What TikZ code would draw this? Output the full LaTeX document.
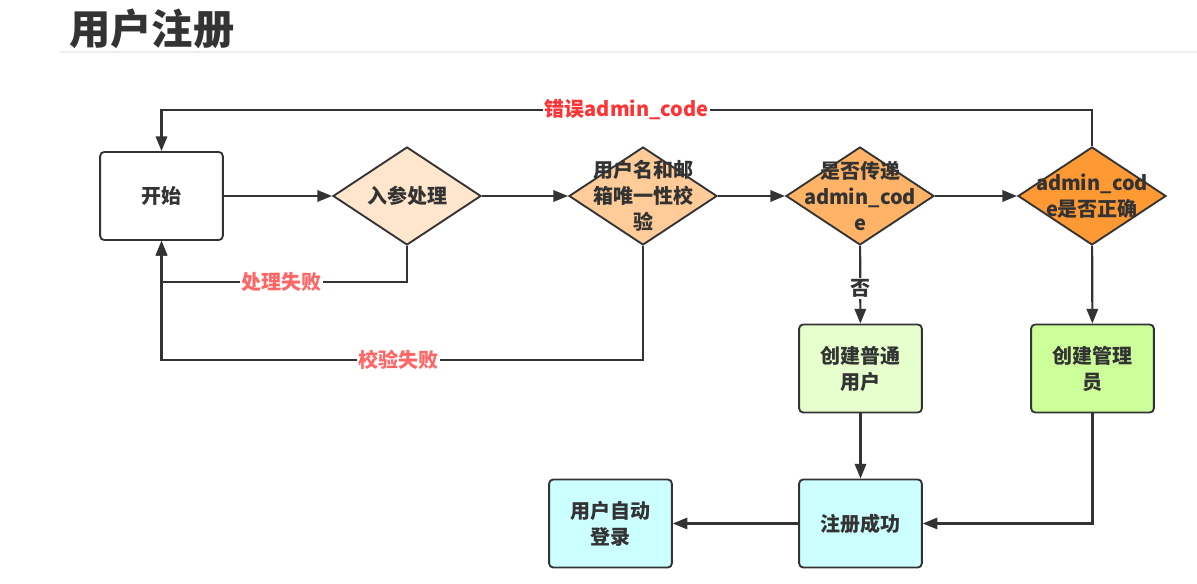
\documentclass[tikz,border=0pt]{standalone}
\usepackage{fontspec}
\setmainfont{Noto Sans CJK SC}
\usetikzlibrary{shapes.geometric,arrows.meta}

\definecolor{ink}{HTML}{333333}
\definecolor{rule}{HTML}{EEEEEE}
\definecolor{errred}{HTML}{FF3333}
\definecolor{failred}{HTML}{FF6666}
\definecolor{paramfill}{HTML}{FFE6CC}
\definecolor{uniqfill}{HTML}{FFCC99}
\definecolor{passfill}{HTML}{FFB366}
\definecolor{checkfill}{HTML}{FF9933}
\definecolor{normalfill}{HTML}{E6FFCC}
\definecolor{adminfill}{HTML}{CCFF99}
\definecolor{donefill}{HTML}{CCFFFF}

\tikzset{
  txt/.style={font=\fontsize{15}{19.5}\selectfont\bfseries, text=ink, align=center},
  box/.style={txt, draw=ink, line width=1.4pt, rounded corners=3pt,
    minimum width=92pt, minimum height=66pt, inner sep=0pt},
  dia/.style={shape=diamond, draw=ink, line width=1.4pt,
    minimum width=111pt, minimum height=73.5pt, inner sep=0pt},
  arr/.style={draw=ink, line width=1.6pt, -{Triangle[length=11pt,width=8.5pt]}},
  lbl/.style={txt, fill=white, inner sep=1pt},
}

\begin{document}
\begin{tikzpicture}[x=0.75pt,y=-0.75pt]
    \useasboundingbox (0,0) rectangle (1197,584);

    % title
    \node[anchor=base west, inner sep=0pt, text=ink,
      font=\fontsize{31}{36}\selectfont\bfseries] (title) at (69,45) {用户注册};
    \draw[rule, line width=1.5pt] (60,52) -- (1197,52);

    % nodes
    \node[box] (start) at (161.5,196) {开始};
    \node[dia, fill=paramfill, label={[txt]center:入参处理}] (param) at (407,196) {};
    \node[dia, fill=uniqfill, label={[txt]center:用户名和邮\\箱唯一性校\\验}] (uniq) at (643,196) {};
    \node[dia, fill=passfill, label={[txt]center:是否传递\\admin\_cod\\e}] (pass) at (860,196) {};
    \node[dia, fill=checkfill, label={[txt]center:admin\_cod\\e是否正确}] (check) at (1092,196) {};

    \node[box, fill=normalfill] (normal) at (860.5,368.5) {创建普通\\用户};
    \node[box, fill=adminfill] (admin) at (1092.5,368.5) {创建管理\\员};
    \node[box, fill=donefill] (success) at (860.5,523.5) {注册成功};
    \node[box, fill=donefill] (login) at (610.5,523.5) {用户自动\\登录};

    \coordinate (toprow) at (0,110);
    \coordinate (failrow) at (0,282);
    \coordinate (checkrow) at (0,360);

    % main flow
    \draw[arr] (start) -- (param);
    \draw[arr] (param) -- (uniq);
    \draw[arr] (uniq) -- (pass);
    \draw[arr] (pass) -- (check);
    \draw[arr] (pass) -- node[lbl, pos=0.55] {否} (normal);
    \draw[arr] (check) -- (admin);
    \draw[arr] (normal) -- (success);
    \draw[arr] (admin) |- (success);
    \draw[arr] (success) -- (login);

    % back to start
    \draw[arr] (check.north) -- (check.north |- toprow)
      -| node[lbl, pos=0.25, text=errred] {错误admin\_code} (start.north);
    \draw[arr] (param.south) -- (param.south |- failrow)
      -| node[lbl, pos=0.256, text=failred] {处理失败} (start.south);
    \draw[arr] (uniq.south) -- (uniq.south |- checkrow)
      -| node[lbl, pos=0.254, text=failred] {校验失败} (start.south);
\end{tikzpicture}
\end{document}
